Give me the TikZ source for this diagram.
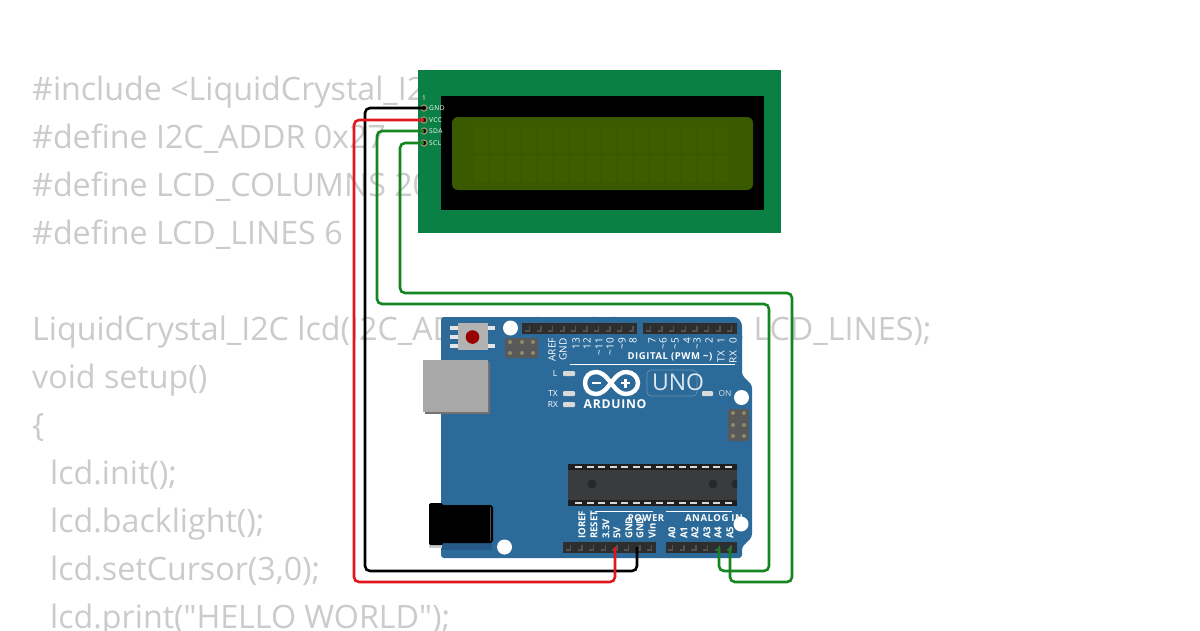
\documentclass[tikz,border=0pt]{standalone}
\usepackage{fontspec}
\setmainfont{Open Sans}
\newfontfamily\codefont{Open Sans}
\newfontfamily\boardfont[LetterSpace=6]{Open Sans}
\usetikzlibrary{positioning}
\definecolor{codegray}{HTML}{CBCBCB}
\definecolor{lcdgreen}{HTML}{0B8045}
\definecolor{screenolive}{HTML}{3B5A00}
\definecolor{cellolive}{HTML}{3D5D00}
\definecolor{boardblue}{HTML}{2B6A99}
\definecolor{boarddark}{HTML}{245A85}
\definecolor{headerdark}{HTML}{2E2E2E}
\definecolor{chipdark}{HTML}{3A3B3D}
\definecolor{chipnotch}{HTML}{26282A}
\definecolor{pintan}{HTML}{8E8A6A}
\definecolor{wirered}{HTML}{E0181C}
\definecolor{wiregreen}{HTML}{15851F}
\tikzset{
  codeline/.style={anchor=base west,inner sep=0pt,text=codegray,font=\codefont\fontsize{32.2}{32.2}\selectfont},
  lcdpin/.style={circle,draw=pintan,fill=black,line width=1.5pt,minimum size=6pt,inner sep=0pt},
  lcdlabel/.style={anchor=west,inner sep=0pt,text=white,font=\boardfont\fontsize{6.6}{6.6}\selectfont},
  toplabel/.style={anchor=east,rotate=90,inner sep=0pt,text=white,font=\fontsize{10}{10}\selectfont},
  botlabel/.style={anchor=west,rotate=90,inner sep=0pt,text=white,font=\bfseries\fontsize{9.6}{9.6}\selectfont},
  boardlabel/.style={inner sep=0pt,text=white,font=\boardfont\bfseries\fontsize{9.5}{9.5}\selectfont},
  ledlabel/.style={inner sep=0pt,text=white,font=\fontsize{8.4}{8.4}\selectfont},
  led/.style={fill=white!85!black,rounded corners=1pt},
  hole/.style={fill=white},
  headertick/.style={black!68,line width=1.5pt},
  wire/.style={line width=2.6pt,rounded corners=5pt}
}
\begin{document}
\begin{tikzpicture}[x=1pt,y=-1pt]
  \useasboundingbox (0,0) rectangle (1200,630);
  \fill[white] (0,0) rectangle (1200,630);

  % code behind the parts
  \node[codeline] (code1) at (32,100) {\#include <LiquidCrystal\_I2};
  \node[codeline] (code2) at (32,148) {\#define I2C\_ADDR 0x27};
  \node[codeline] (code3) at (32,196) {\#define LCD\_COLUMNS 20};
  \node[codeline] (code4) at (32,244) {\#define LCD\_LINES 6};
  \node[codeline] (code5) at (32,340) {LiquidCrystal\_I2C lcd(I2C\_ADDR,LCD\_COLUMNS, LCD\_LINES);};
  \node[codeline] (code6) at (32,388) {void setup()};
  \node[codeline] (code7) at (32,436) {\{};
  \node[codeline] (code8) at (50,484) {lcd.init();};
  \node[codeline] (code9) at (50,532) {lcd.backlight();};
  \node[codeline] (code10) at (50,580) {lcd.setCursor(3,0);};
  \node[codeline] (code11) at (50,628) {lcd.print("HELLO WORLD");};

  % lcd
  \fill[lcdgreen] (418,70) rectangle (781,233);
  \fill[black] (441,96) rectangle (764,210);
  \fill[screenolive,rounded corners=6pt] (452,117) rectangle (753,190);
  \foreach \i in {0,...,15} {
    \fill[cellolive] (474+\i*16,127) rectangle +(13.5,26);
    \fill[cellolive] (474+\i*16,156) rectangle +(13.5,26);
  }
  \node[lcdpin] (lcdGND) at (424,108) {};
  \node[lcdpin] (lcdVCC) at (424,120) {};
  \node[lcdpin] (lcdSDA) at (424,131) {};
  \node[lcdpin] (lcdSCL) at (424,143) {};
  \node[lcdlabel] (lblOne) at (422,98) {1};
  \node[lcdlabel] (lblGND) at (429,108) {GND};
  \node[lcdlabel] (lblVCC) at (429,120) {VCC};
  \node[lcdlabel] (lblSDA) at (429,131) {SDA};
  \node[lcdlabel] (lblSCL) at (429,143) {SCL};

  % board
  \fill[boarddark] (459,358) circle (7);
  \fill[boarddark] (459,414) circle (7);
  \fill[boardblue,rounded corners=3pt] (441,317) -- (737,317) -- (742,323) -- (742,375)
    -- (752,385) -- (752,537) -- (742,547) -- (742,558) -- (441,558) -- cycle;

  % reset button
  \fill[white!90!black] (450,326) rectangle (458,330);
  \fill[white!90!black] (450,335) rectangle (458,339);
  \fill[white!90!black] (450,344) rectangle (458,348);
  \fill[white!90!black] (488,326) rectangle (495,330);
  \fill[white!90!black] (488,344) rectangle (495,348);
  \fill[white!70!black] (458,323) rectangle (488,350);
  \fill[red!60!black] (472.5,337) circle (6.8);

  % icsp headers
  \fill[black!65,rounded corners=1.5pt] (505,338) rectangle (538,358);
  \foreach \x in {510,522,533} {
    \fill[pintan] (\x,342) circle (2);
    \fill[pintan] (\x,353) circle (2);
  }
  \fill[black!65,rounded corners=1.5pt] (728,409) rectangle (749,441);
  \foreach \y in {413,425,436} {
    \fill[pintan] (733,\y) circle (2);
    \fill[pintan] (744,\y) circle (2);
  }

  % usb and power jack
  \fill[black!55] (425,362) rectangle (490,414);
  \fill[white!66!black] (423,360) rectangle (488,412);
  \fill[boarddark] (442,530) rectangle (492,550);
  \fill[white!80!black] (429,540) rectangle (442,548);
  \fill[black,rounded corners=1.5pt] (429,503) rectangle (443,545);
  \fill[black,rounded corners=3pt] (441,505) rectangle (493,543);
  \draw[black!70,line width=0.6pt] (490,507) -- (490,541);

  % headers
  \fill[headerdark] (521.5,323) rectangle (637,334);
  \fill[headerdark] (643,323) rectangle (737,334);
  \fill[headerdark] (563,542) rectangle (656,553);
  \fill[headerdark] (666,542) rectangle (737,553);
  \foreach \i in {0,...,9} {
    \draw[headertick] (525+\i*11.5,331) -- +(4.5,0) -- +(4.5,-5);
  }
  \foreach \i in {0,...,7} {
    \draw[headertick] (646+\i*11.6,331) -- +(4.5,0) -- +(4.5,-5);
  }
  \foreach \i in {0,...,7} {
    \draw[headertick] (566+\i*11.6,550) -- +(4.5,0) -- +(4.5,-5);
  }
  \foreach \i in {0,...,5} {
    \draw[headertick] (668+\i*11.7,550) -- +(4.5,0) -- +(4.5,-5);
  }

  % chip
  \fill[chipdark] (568,464) rectangle (737,506);
  \fill[black!88] (568,464) rectangle (737,470);
  \fill[black!88] (568,500) rectangle (737,506);
  \foreach \i in {0,...,13} {
    \fill[white!85!black] (575+\i*11.5,466) rectangle +(7,2.2);
    \fill[white!85!black] (575+\i*11.5,502) rectangle +(7,2.2);
  }
  \begin{scope}
    \clip (568,464) rectangle (737,506);
    \fill[chipnotch] (592,484) circle (4.5);
    \fill[chipnotch] (713,484) circle (4.5);
    \fill[chipnotch] (736,484) circle (4.5);
  \end{scope}

  % silk lines
  \draw[white,line width=0.8pt] (570,364) -- (735,364);
  \draw[white,line width=0.8pt] (595,511) -- (653,511);
  \draw[white,line width=0.8pt] (666,511) -- (732,511);

  % top pin labels
  \foreach \x/\t [count=\i] in {552/AREF,563/GND,576/13,587/12,599/{\textasciitilde 11},610/{\textasciitilde 10},622/{\textasciitilde 9},633/8,
      652/7,663/{\textasciitilde 6},675/{\textasciitilde 5},687/4,697/{\textasciitilde 3},709/2,721/1,733/0} {
    \node[toplabel] (top\i) at (\x,338) {\t};
  }
  \node[toplabel] (topTX) at (721,351) {TX};
  \node[toplabel] (topRX) at (733,351) {RX};
  \node[boardlabel] (digital) at (670,357) {DIGITAL (PWM \textasciitilde)};

  % bottom pin labels
  \foreach \x/\t [count=\i] in {582/IOREF,594/RESET,606/3.3V,617/5V,629/GND,640/GND,652/Vin,
      672/A0,684/A1,695/A2,707/A3,718/A4,730/A5} {
    \node[botlabel] (bot\i) at (\x,539) {\t};
  }
  \node[boardlabel] (power) at (646,518) {POWER};
  \node[boardlabel] (analog) at (714,518) {ANALOG IN};

  % leds
  \node[ledlabel] (ledL) at (555,373) {L};
  \node[ledlabel] (ledTX) at (553,393) {TX};
  \node[ledlabel] (ledRX) at (553,404) {RX};
  \node[ledlabel,text=white!80!boardblue] (ledON) at (725,393) {ON};
  \fill[led] (563,371) rectangle (575,376);
  \fill[led] (563,391) rectangle (575,396);
  \fill[led] (563,402) rectangle (575,407);
  \fill[led] (702,391) rectangle (713,396);

  % logo
  \draw[white,line width=4.4pt] (611,383) .. controls (605,375) and (601,372) .. (596,372)
    .. controls (589,372) and (585,377) .. (585,383) .. controls (585,389) and (589,394) .. (596,394)
    .. controls (601,394) and (605,391) .. (611,383) .. controls (617,375) and (621,372) .. (626,372)
    .. controls (633,372) and (638,377) .. (638,383) .. controls (638,389) and (633,394) .. (626,394)
    .. controls (621,394) and (617,391) .. (611,383) -- cycle;
  \fill[white] (592,381.8) rectangle (601,384.2);
  \fill[white] (621,381.8) rectangle (630,384.2);
  \fill[white] (624.3,378.5) rectangle (626.7,387.5);
  \node[inner sep=0pt,text=white,font=\boardfont\bfseries\fontsize{12.2}{12.2}\selectfont] (arduino) at (615,404) {ARDUINO};
  \draw[white!30!boardblue,line width=0.6pt,rounded corners=4pt] (647,370) rectangle (697,396);
  \node[inner sep=0pt,text=white!85!boardblue,font=\fontsize{23}{23}\selectfont] (uno) at (678,382) {UNO};

  % mounting holes
  \fill[hole] (510.5,328) circle (7.5);
  \fill[hole] (741.5,397.5) circle (7.5);
  \fill[hole] (741,524) circle (7.5);
  \fill[hole] (504.5,547) circle (7.5);

  % wires
  \coordinate (pin5V) at (615,547);
  \coordinate (pinGND) at (637,547);
  \coordinate (pinA4) at (719,547);
  \coordinate (pinA5) at (730,547);
  \coordinate (gndBend) at (365,571);
  \coordinate (vccBend) at (354,582);
  \coordinate (sdaLeft) at (377,304);
  \coordinate (sdaRight) at (769,571);
  \coordinate (sclLeft) at (400,293);
  \coordinate (sclRight) at (792,582);
  \draw[wire,wiregreen] (lcdSDA.center) -| (sdaLeft) -| (sdaRight) -| (pinA4);
  \draw[wire,wiregreen] (lcdSCL.center) -| (sclLeft) -| (sclRight) -| (pinA5);
  \draw[wire,black] (lcdGND.center) -| (gndBend) -| (pinGND);
  \draw[wire,wirered] (lcdVCC.center) -| (vccBend) -| (pin5V);
\end{tikzpicture}
\end{document}
